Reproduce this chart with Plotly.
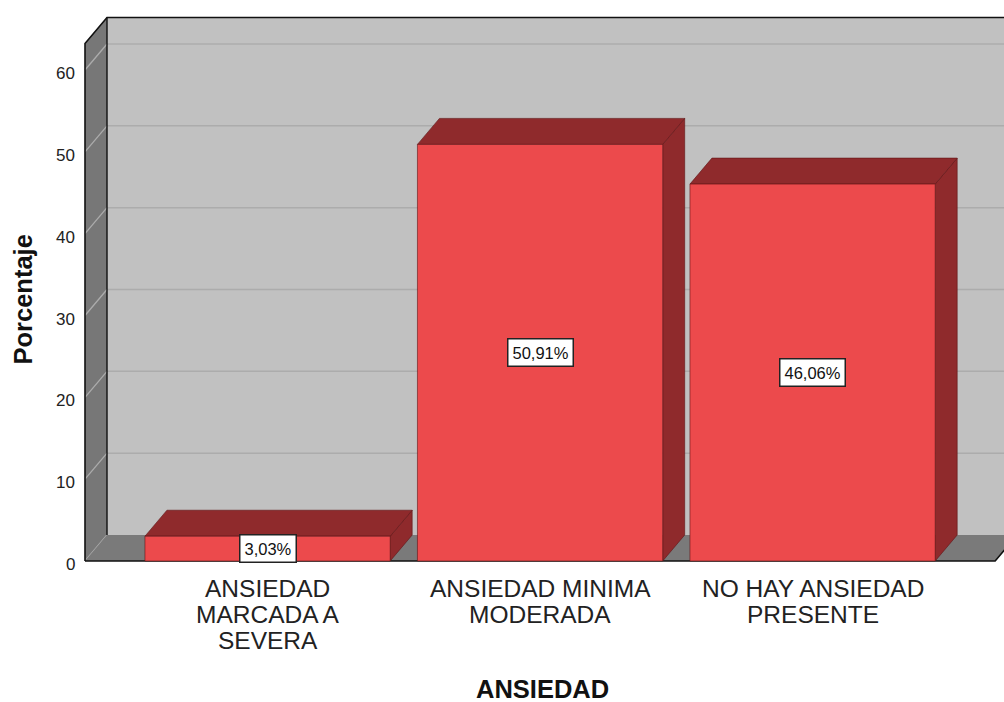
import plotly.graph_objects as go

# --- data ---------------------------------------------------------------
categories = ["ANSIEDAD MARCADA A SEVERA", "ANSIEDAD MINIMA MODERADA", "NO HAY ANSIEDAD PRESENTE"]
category_lines = [["ANSIEDAD", "MARCADA A", "SEVERA"],
                  ["ANSIEDAD MINIMA", "MODERADA"],
                  ["NO HAY ANSIEDAD", "PRESENTE"]]
percentages = [3.03, 50.91, 46.06]
y_ticks = [0, 10, 20, 30, 40, 50, 60]

value_labels = [f"{v:.2f}".replace(".", ",") + "%" for v in percentages]

# --- geometry of the pseudo-3D frame (data units) -------------------------
FIG_W, FIG_H = 1004, 702
M_L, M_R, M_T, M_B = 80, 0, 10, 132
PLOT_W = FIG_W - M_L - M_R
PLOT_H = FIG_H - M_T - M_B
PX_PER_CAT = 272.5          # pixels per category step
PX_PER_PCT = 8.183          # pixels per percentage point
FLOOR_PX = FIG_H - M_B - 9  # pixel row of the value 0 on the front axis

X_LEFT = -0.670             # front-left corner of the floor
X_RIGHT = 2.670             # front-right corner of the floor
WALL_TOP = 63.25            # height of the walls
DX = 22 / PX_PER_CAT        # depth offset, horizontal
DY = 26 / PX_PER_PCT        # depth offset, vertical
BAR_W = 0.9

x_start = X_LEFT - 5 / PX_PER_CAT
x_range = [x_start, x_start + PLOT_W / PX_PER_CAT]
y_range = [-(FIG_H - M_B - FLOOR_PX) / PX_PER_PCT, (FLOOR_PX - M_T) / PX_PER_PCT]

WALL_BACK = "#c1c1c1"
WALL_SIDE = "#777777"
FLOOR = "#7a7a7a"
GRID = "#acacac"
BAR_FRONT = "#ec4a4c"
BAR_DARK = "#8f2a2c"
BAR_EDGE = "rgba(95,20,22,0.75)"
FONT = "Liberation Sans, Arial, sans-serif"

fig = go.Figure()


def poly(xs, ys, fill, line_color="rgba(0,0,0,0)", width=0):
    fig.add_trace(go.Scatter(
        x=list(xs) + [xs[0]], y=list(ys) + [ys[0]], mode="lines",
        fill="toself", fillcolor=fill,
        line=dict(color=line_color, width=width),
        hoverinfo="skip", showlegend=False))


def seg(xs, ys, color, width):
    fig.add_trace(go.Scatter(
        x=xs, y=ys, mode="lines", line=dict(color=color, width=width),
        hoverinfo="skip", showlegend=False))


# back wall
poly([X_LEFT + DX, X_RIGHT + DX, X_RIGHT + DX, X_LEFT + DX],
     [DY, DY, WALL_TOP + DY, WALL_TOP + DY], WALL_BACK)
for t in y_ticks[1:]:
    seg([X_LEFT + DX, X_RIGHT + DX], [t + DY, t + DY], GRID, 1.5)

# left side wall
poly([X_LEFT, X_LEFT + DX, X_LEFT + DX, X_LEFT],
     [0, DY, WALL_TOP + DY, WALL_TOP], WALL_SIDE)
for t in y_ticks:
    seg([X_LEFT, X_LEFT + DX], [t, t + DY], GRID, 1.3)

# floor
poly([X_LEFT, X_RIGHT, X_RIGHT + DX, X_LEFT + DX], [0, 0, DY, DY], FLOOR)

# frame edges
seg([X_LEFT, X_LEFT, X_LEFT + DX, X_RIGHT + DX + 0.2],
    [0, WALL_TOP, WALL_TOP + DY, WALL_TOP + DY], "#111111", 1.6)
seg([X_LEFT + DX, X_LEFT + DX], [DY, WALL_TOP + DY], "#111111", 1.4)
seg([X_LEFT, X_RIGHT, X_RIGHT + DX], [0, 0, DY], "#111111", 1.6)

# bars: side face, top face, front face
for i, v in enumerate(percentages):
    l, r = i - BAR_W / 2, i + BAR_W / 2
    poly([r, r + DX, r + DX, r], [0, DY, v + DY, v], BAR_DARK, BAR_EDGE, 0.8)
    poly([l, r, r + DX, l + DX], [v, v, v + DY, v + DY], BAR_DARK, BAR_EDGE, 0.8)
    poly([l, r, r, l], [0, 0, v, v], BAR_FRONT, BAR_EDGE, 0.8)


def paper_x(px):
    return (px - M_L) / PLOT_W


def paper_y(py):
    return (FIG_H - M_B - py) / PLOT_H


annotations = []
# value labels on the front faces
for i, (v, lab) in enumerate(zip(percentages, value_labels)):
    annotations.append(dict(
        x=i, y=v / 2, xref="x", yref="y", text=lab, showarrow=False,
        font=dict(family=FONT, size=16.5, color="#111111"),
        bgcolor="white", bordercolor="#222222", borderwidth=1.5, borderpad=4))

# tick labels of the front value axis
for t in y_ticks:
    annotations.append(dict(
        x=paper_x(76.5), y=t, xref="paper", yref="y", text=str(t),
        showarrow=False, xanchor="right", yanchor="middle", yshift=-3.5,
        font=dict(family=FONT, size=17, color="#222222")))

# category labels, one annotation per text line
for i, lines in enumerate(category_lines):
    for k, line in enumerate(lines):
        annotations.append(dict(
            x=i, y=0, xref="x", yref="y", text=line, showarrow=False,
            xanchor="center", yanchor="middle", yshift=-(27 + 26 * k),
            font=dict(family=FONT, size=24.5, color="#222222")))

annotations.append(dict(
    x=paper_x(22.5), y=paper_y(300), xref="paper", yref="paper",
    xanchor="center", yanchor="middle",
    text="<b>Porcentaje</b>", textangle=-90, showarrow=False,
    font=dict(family=FONT, size=25.5, color="#111111")))
annotations.append(dict(
    x=paper_x(542), y=paper_y(689), xref="paper", yref="paper",
    xanchor="center", yanchor="middle",
    text="<b>ANSIEDAD</b>", showarrow=False,
    font=dict(family=FONT, size=25.5, color="#111111")))

fig.update_layout(
    width=FIG_W, height=FIG_H,
    margin=dict(l=M_L, r=M_R, t=M_T, b=M_B),
    paper_bgcolor="white", plot_bgcolor="white",
    showlegend=False,
    xaxis=dict(range=x_range, showgrid=False, zeroline=False, showline=False,
               showticklabels=False, ticks="", fixedrange=True),
    yaxis=dict(range=y_range, showgrid=False, zeroline=False, showline=False,
               showticklabels=False, ticks="", fixedrange=True),
    annotations=annotations,
)

fig.write_html("out.html")
